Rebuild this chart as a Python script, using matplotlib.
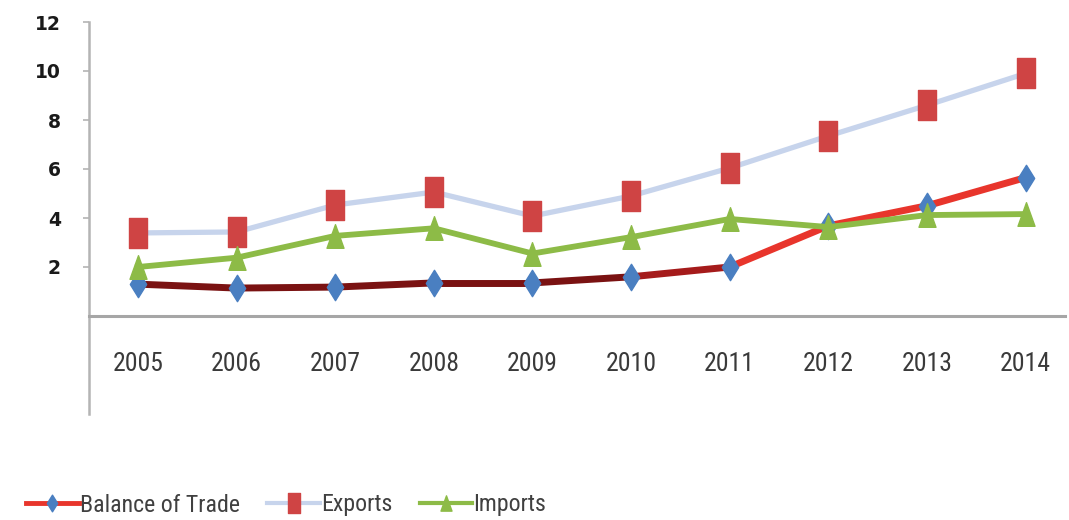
import numpy as np
import matplotlib
matplotlib.use("Agg")
import matplotlib.pyplot as plt
from matplotlib.path import Path
from matplotlib.collections import LineCollection
from matplotlib.lines import Line2D
from matplotlib import font_manager
from matplotlib.font_manager import FontProperties

years = ["2005", "2006", "2007", "2008", "2009", "2010", "2011", "2012", "2013", "2014"]
balance = [1.30, 1.14, 1.18, 1.35, 1.35, 1.60, 2.00, 3.68, 4.50, 5.65]
exports = [3.39, 3.43, 4.53, 5.06, 4.08, 4.90, 6.04, 7.35, 8.60, 9.90]
imports = [2.00, 2.38, 3.27, 3.58, 2.55, 3.22, 3.96, 3.63, 4.12, 4.16]
yticks = [2, 4, 6, 8, 10, 12]

entries = font_manager.fontManager.ttflist
names = {f.name for f in entries}
narrow_family = None
narrow_stretch = "normal"
for cand in ["Liberation Sans Narrow", "Roboto Condensed", "Open Sans Condensed",
             "DejaVu Sans Condensed", "Noto Sans Condensed"]:
    if cand in names:
        narrow_family = cand
        break
if narrow_family is None:
    for f in entries:
        if "condensed" in str(f.stretch).lower() or (isinstance(f.stretch, int) and f.stretch < 500) \
                or "Condensed" in f.fname or "Narrow" in f.fname:
            narrow_family = f.name
            narrow_stretch = "condensed"
            break
if narrow_family is None:
    narrow_family = "DejaVu Sans"

def nprop(size, weight="normal"):
    return FontProperties(family=narrow_family, stretch=narrow_stretch, size=size, weight=weight)

def rect_marker(w, h):
    return Path([(-w/2, -h/2), (w/2, -h/2), (w/2, h/2), (-w/2, h/2), (-w/2, -h/2)],
                [Path.MOVETO, Path.LINETO, Path.LINETO, Path.LINETO, Path.CLOSEPOLY])

def diamond_marker(w, h):
    return Path([(0, -h/2), (w/2, 0), (0, h/2), (-w/2, 0), (0, -h/2)],
                [Path.MOVETO, Path.LINETO, Path.LINETO, Path.LINETO, Path.CLOSEPOLY])

def tri_marker(w, h):
    return Path([(-w/2, -h/2), (w/2, -h/2), (0, h/2), (-w/2, -h/2)],
                [Path.MOVETO, Path.LINETO, Path.LINETO, Path.CLOSEPOLY])

SQ = rect_marker(0.62, 1.0)
DI = diamond_marker(0.62, 1.0)
TR = tri_marker(0.72, 1.0)

fig = plt.figure(figsize=(10.69, 5.20), dpi=100)
ax = fig.add_axes([88.7/1069, 1 - 414/520, (1065 - 88.7)/1069, (414 - 22)/520])

x = np.arange(len(years))

# Balance of Trade: dark red early, bright red later
pts = np.column_stack([x, balance])
segs = np.stack([pts[:-1], pts[1:]], axis=1)
seg_colors = ["#7a1212"] * 5 + ["#a51b1b"] + ["#e8352c"] * 3
lc = LineCollection(segs, colors=seg_colors, linewidths=5.0, capstyle="round",
                    joinstyle="round", zorder=2)
ax.add_collection(lc)
ax.plot(x, balance, linestyle="none", marker=DI, markersize=19,
        markerfacecolor="#4a7fc1", markeredgecolor="#4a7fc1", zorder=3)

ax.plot(x, exports, color="#c7d4ec", linewidth=3.8, solid_joinstyle="round",
        marker=SQ, markersize=21, markerfacecolor="#cf4444",
        markeredgecolor="#cf4444", zorder=4)

ax.plot(x, imports, color="#8dbb47", linewidth=4.2, solid_joinstyle="round",
        marker=TR, markersize=17, markerfacecolor="#8dbb47",
        markeredgecolor="#8dbb47", zorder=5)

ax.set_xlim(-0.5, 9.4)
ax.set_ylim(-4, 12)

for s in ["top", "right"]:
    ax.spines[s].set_visible(False)
ax.spines["bottom"].set_position(("data", 0))
ax.spines["bottom"].set_color("#a6a6a6")
ax.spines["bottom"].set_linewidth(2.2)
ax.spines["left"].set_color("#b4b4b4")
ax.spines["left"].set_linewidth(1.8)

ax.set_yticks(yticks)
ax.set_yticklabels([str(v) for v in yticks], fontsize=13.5, fontweight="bold",
                   family="DejaVu Sans", color="#1a1a1a")
ax.tick_params(axis="y", length=4, width=1.2, color="#b4b4b4", pad=16)

ax.set_xticks(x)
ax.set_xticklabels(years, color="#3a3a3a")
for t in ax.get_xticklabels():
    t.set_fontproperties(nprop(18.5))
ax.tick_params(axis="x", length=0, pad=26)

handles = [
    Line2D([], [], color="#e8352c", linewidth=3.5, marker=DI, markersize=12,
           markerfacecolor="#4a7fc1", markeredgecolor="#4a7fc1"),
    Line2D([], [], color="#c7d4ec", linewidth=3.0, marker=SQ, markersize=14,
           markerfacecolor="#cf4444", markeredgecolor="#cf4444"),
    Line2D([], [], color="#8dbb47", linewidth=3.0, marker=TR, markersize=11,
           markerfacecolor="#8dbb47", markeredgecolor="#8dbb47"),
]
leg = fig.legend(handles, ["Balance of Trade", "Exports", "Imports"],
                 loc="center left", bbox_to_anchor=(26/1069, 1 - 505/520),
                 ncol=3, frameon=False, handlelength=2.2, handletextpad=0.05,
                 columnspacing=1.15, borderpad=0.0, borderaxespad=0.0,
                 prop=nprop(17.2))
for t in leg.get_texts():
    t.set_color("#404040")

fig.savefig("out.png", dpi=100)
